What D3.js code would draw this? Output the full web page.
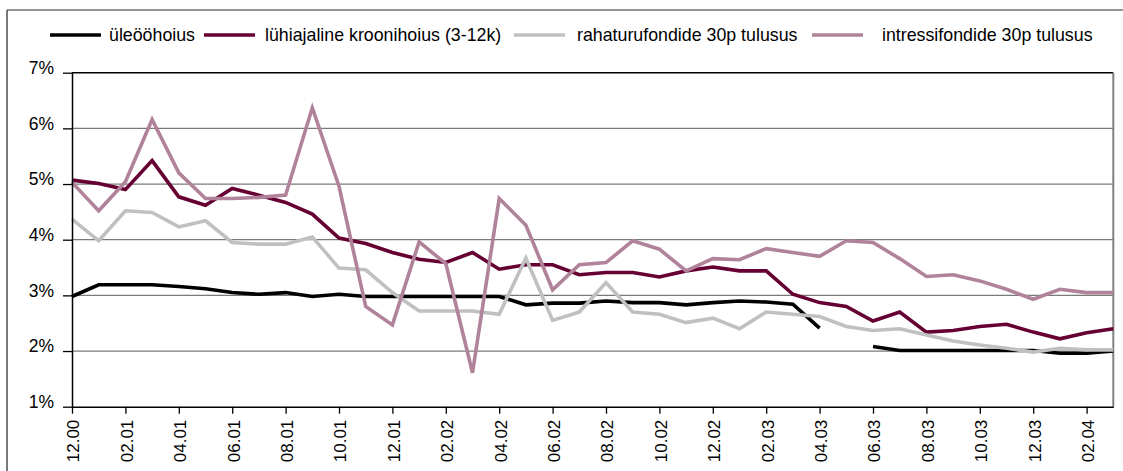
<html>
<head>
<style>
  body { margin: 0; background: white; font-family: "Liberation Sans", Arial, Helvetica, sans-serif; }
  svg { display: block; }
</style>
<script src="https://cdn.jsdelivr.net/npm/d3@7"></script>
</head>
<body>
<svg id="chart"></svg>
<script>

  // months on the x axis (one point per month)
  let months = [
    "12.00", "01.01", "02.01", "03.01", "04.01", "05.01", "06.01", "07.01", "08.01", "09.01", "10.01", "11.01",
    "12.01", "01.02", "02.02", "03.02", "04.02", "05.02", "06.02", "07.02", "08.02", "09.02", "10.02", "11.02",
    "12.02", "01.03", "02.03", "03.03", "04.03", "05.03", "06.03", "07.03", "08.03", "09.03", "10.03", "11.03",
    "12.03", "01.04", "02.04", "03.04"
  ]
  let tickLabels = months.filter((m, i) => i % 2 == 0)
  let yTicks = [1, 2, 3, 4, 5, 6, 7]

  // series values in percent
  let uleoohoius = [2.98, 3.19, 3.19, 3.19, 3.16, 3.12, 3.05, 3.02, 3.05, 2.98, 3.02, 2.98,
    2.98, 2.98, 2.98, 2.98, 2.98, 2.83, 2.86, 2.86, 2.90, 2.87, 2.87, 2.83,
    2.87, 2.90, 2.88, 2.84, 2.41, null, 2.08, 2.01, 2.01, 2.01, 2.01, 2.01,
    2.01, 1.96, 1.96, 2.00]
  let kroonihoius = [5.07, 5.01, 4.90, 5.42, 4.77, 4.62, 4.92, 4.80, 4.67, 4.46, 4.03, 3.93,
    3.77, 3.65, 3.59, 3.77, 3.47, 3.55, 3.55, 3.37, 3.41, 3.41, 3.33, 3.44,
    3.51, 3.44, 3.44, 3.02, 2.87, 2.80, 2.54, 2.70, 2.34, 2.37, 2.44, 2.48,
    2.34, 2.22, 2.33, 2.40]
  let rahaturufondid = [4.37, 3.98, 4.52, 4.49, 4.23, 4.34, 3.95, 3.92, 3.92, 4.05, 3.49, 3.46,
    3.05, 2.72, 2.72, 2.72, 2.66, 3.67, 2.55, 2.70, 3.23, 2.70, 2.66, 2.51,
    2.59, 2.40, 2.70, 2.66, 2.62, 2.44, 2.37, 2.40, 2.29, 2.18, 2.11, 2.05,
    1.98, 2.05, 2.02, 2.02]
  let intressifondid = [5.03, 4.52, 5.04, 6.16, 5.20, 4.74, 4.74, 4.76, 4.80, 6.37, 4.96, 2.80,
    2.47, 3.96, 3.57, 1.61, 4.74, 4.26, 3.10, 3.55, 3.59, 3.98, 3.83, 3.44,
    3.66, 3.64, 3.84, 3.77, 3.70, 3.98, 3.95, 3.66, 3.34, 3.37, 3.26, 3.11,
    2.93, 3.11, 3.05, 3.05]

  let seriesNames = ["üleööhoius", "lühiajaline kroonihoius (3-12k)", "rahaturufondide 30p tulusus", "intressifondide 30p tulusus"]
  let seriesValues = [uleoohoius, kroonihoius, rahaturufondid, intressifondid]
  let seriesColors = ["#000000", "#660033", "#c0c0c0", "#b0839a"]

  function getConfig() {
    let width = 1123
    let height = 471
    let margin = { top: 72.7, left: 72, right: 9.7, bottom: 64.3 }
    let bodyWidth = width - margin.left - margin.right
    let bodyHeight = height - margin.top - margin.bottom
    let container = d3.select("#chart")
      .attr("width", width)
      .attr("height", height)
    return { width, height, margin, bodyWidth, bodyHeight, container }
  }

  function getScales(config) {
    let { margin, bodyWidth, bodyHeight } = config
    let xScale = d3.scalePoint()
      .domain(months)
      .range([margin.left, margin.left + bodyWidth])
    let yScale = d3.scaleLinear()
      .domain([1, 7])
      .range([margin.top + bodyHeight, margin.top])
    return { xScale, yScale }
  }

  function drawFrame(config, scales) {
    let { container, width, height, margin, bodyWidth } = config
    let { yScale } = scales
    // outer frame (only top and left visible)
    container.append("line")
      .attr("x1", 7).attr("x2", width).attr("y1", 10).attr("y2", 10)
      .attr("stroke", "#707070").attr("stroke-width", 1.6)
    container.append("line")
      .attr("x1", 7).attr("x2", 7).attr("y1", 10).attr("y2", height)
      .attr("stroke", "#404040").attr("stroke-width", 1.4)

    // gridlines
    container.append("g").selectAll("line")
      .data(yTicks.filter(t => t > 1 && t < 7))
      .enter().append("line")
      .attr("x1", margin.left).attr("x2", margin.left + bodyWidth)
      .attr("y1", d => yScale(d)).attr("y2", d => yScale(d))
      .attr("stroke", "#7a7a7a").attr("stroke-width", 1.3)

    // top border black, right border gray
    container.append("line")
      .attr("x1", margin.left).attr("x2", margin.left + bodyWidth)
      .attr("y1", yScale(7)).attr("y2", yScale(7))
      .attr("stroke", "#000").attr("stroke-width", 1.5)
    container.append("line")
      .attr("x1", margin.left + bodyWidth).attr("x2", margin.left + bodyWidth)
      .attr("y1", yScale(7)).attr("y2", yScale(1))
      .attr("stroke", "#808080").attr("stroke-width", 2)
  }

  function drawLines(config, scales) {
    let { container } = config
    let { xScale, yScale } = scales
    let line = d3.line()
      .defined(d => d.v != null)
      .x(d => xScale(d.m))
      .y(d => yScale(d.v))

    seriesValues.forEach((values, i) => {
      let points = values.map((v, j) => ({ m: months[j], v: v }))
      container.append("path")
        .datum(points)
        .attr("d", line)
        .attr("fill", "none")
        .attr("stroke", seriesColors[i])
        .attr("stroke-width", 3.6)
        .attr("stroke-linejoin", "miter")
    })
  }

  function drawAxes(config, scales) {
    let { container, margin, bodyHeight } = config
    let { xScale, yScale } = scales

    let axisY = d3.axisLeft(yScale)
      .tickValues(yTicks)
      .tickFormat(d => d + "%")
      .tickSize(9)
      .tickSizeOuter(0)
      .tickPadding(9)
    let gy = container.append("g")
      .attr("transform", `translate(${margin.left},0)`)
      .call(axisY)
    gy.selectAll("line").attr("stroke", "#000").attr("stroke-width", 1.3)
    gy.select(".domain").attr("stroke", "#000").attr("stroke-width", 1.5)
    gy.selectAll("text")
      .attr("dy", "0.05em")
      .style("font-family", '"Liberation Sans", Arial, sans-serif')
      .style("font-size", "17.5px")
      .attr("fill", "#000")

    let axisX = d3.axisBottom(xScale)
      .tickValues(tickLabels)
      .tickSize(7)
      .tickSizeOuter(0)
    let gx = container.append("g")
      .attr("transform", `translate(0,${margin.top + bodyHeight})`)
      .call(axisX)
    gx.selectAll("line").attr("stroke", "#000").attr("stroke-width", 1.3)
    gx.select(".domain").attr("stroke", "#000").attr("stroke-width", 1.5)
    gx.selectAll("text")
      .attr("transform", "rotate(-90)")
      .attr("text-anchor", "end")
      .attr("x", -13)
      .attr("y", 0)
      .attr("dy", "0.4em")
      .style("font-family", '"Liberation Sans", Arial, sans-serif')
      .style("font-size", "17px")
      .attr("fill", "#000")
  }

  function drawLegend(config) {
    let { container } = config
    let itemX = [50, 204, 514, 812]
    let textGap = [59, 61, 63, 70]
    let legend = container.append("g")
    seriesNames.forEach((name, i) => {
      legend.append("line")
        .attr("x1", itemX[i]).attr("x2", itemX[i] + 51)
        .attr("y1", 35).attr("y2", 35)
        .attr("stroke", seriesColors[i])
        .attr("stroke-width", 3.6)
      legend.append("text")
        .attr("x", itemX[i] + textGap[i])
        .attr("y", 41)
        .style("font-size", "17.8px")
        .text(name)
    })
  }

  let config = getConfig()
  let scales = getScales(config)
  drawFrame(config, scales)
  drawLines(config, scales)
  drawAxes(config, scales)
  drawLegend(config)

</script>
</body>
</html>
